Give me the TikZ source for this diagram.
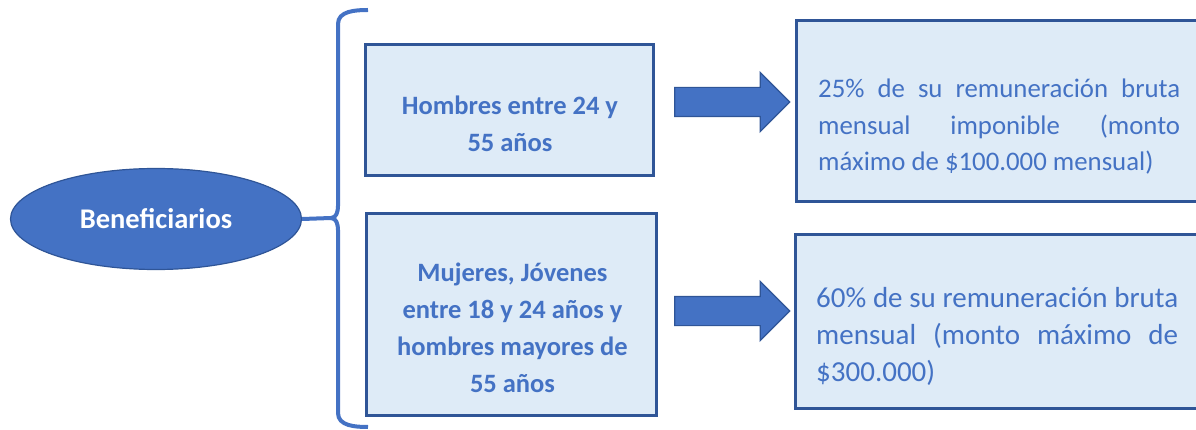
\documentclass[tikz,border=0pt]{standalone}
\usepackage{fontspec}
\setmainfont{Carlito}
\usetikzlibrary{shapes.geometric,shapes.arrows}
\definecolor{accent}{HTML}{4472C4}
\definecolor{edge}{HTML}{2F5597}
\definecolor{pale}{HTML}{DEEBF7}

\begin{document}
\begin{tikzpicture}[x=1pt,y=-1pt,
    every node/.style={inner sep=0pt},
    blob/.style={ellipse,draw=edge,line width=1.2pt,fill=accent,
        minimum width=291pt,minimum height=101pt,text=white,
        font=\fontsize{28.5}{32}\selectfont\bfseries},
    group/.style={rectangle,draw=edge,line width=3pt,fill=pale},
    grouptext/.style={align=center,text=accent,
        font=\fontsize{26.5}{37}\selectfont\bfseries},
    amount/.style={align=justify,text width=362pt,text=accent},
    push/.style={single arrow,draw=edge,line width=1.2pt,fill=accent,
        minimum height=115pt,inner ysep=14pt,inner xsep=0pt,
        single arrow head extend=15pt},
    curly/.style={draw=accent,line width=4pt}
    ]
    \useasboundingbox (0,0) rectangle (1196,430);

    \node[blob] (ben) at (156,219) {Beneficiarios};

    \node[group,minimum width=288pt,minimum height=131pt] (men) at (509.5,110) {};
    \node[group,minimum width=290pt,minimum height=202pt] (rest) at (511.5,314.5) {};
    \node[grouptext,anchor=base] (mentext) at (510,152) {Hombres entre 24 y\\55 años};
    \node[grouptext,anchor=base] (resttext) at (512.5,392)
        {Mujeres, Jóvenes\\entre 18 y 24 años y\\hombres mayores de\\55 años};

    \node[group,minimum width=420pt,minimum height=181pt,anchor=west] (low) at (794.5,111) {};
    \node[group,minimum width=420pt,minimum height=174pt,anchor=west] (high) at (793.5,321.5) {};
    \node[amount,font=\fontsize{26.8}{36.5}\selectfont,anchor=base west] (lowtext) at (818,98)
        {25\% de su remuneración bruta\linebreak mensual imponible (monto\linebreak máximo de \$100.000 mensual)};
    \node[amount,font=\fontsize{29}{37}\selectfont,anchor=base west] (hightext) at (816,307)
        {60\% de su remuneración bruta\linebreak mensual (monto máximo de\linebreak \$300.000)};

    \node[push] (toplow) at (725,102) {};
    \node[push] (tohigh) at (725,311) {};

    \coordinate (tip) at (331,218);
    \draw[curly] (ben.east) -- (tip);
    \draw[curly] (368,10) to[out=180,in=90] (338,24) -- (338,206)
        to[out=-90,in=0] (tip) to[out=0,in=90] (338,230) -- (338,413)
        to[out=-90,in=180] (368,427);
\end{tikzpicture}
\end{document}
